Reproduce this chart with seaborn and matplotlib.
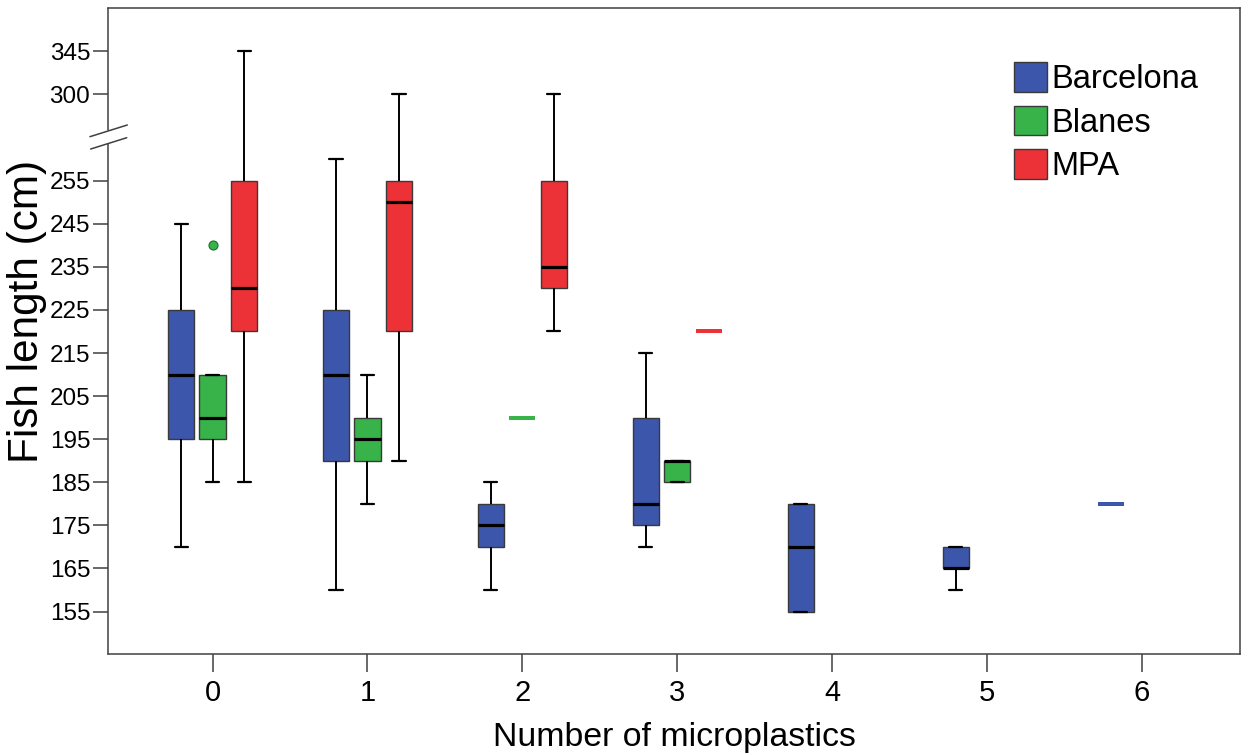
import numpy as np
import pandas as pd
import matplotlib
matplotlib.use("Agg")
import matplotlib.pyplot as plt
from matplotlib.lines import Line2D
import seaborn as sns

# ---------------- data ----------------
counts = ["0", "1", "2", "3", "4", "5", "6"]
sites = ["Barcelona", "Blanes", "MPA"]
site_colors = ["#3C56AB", "#37B34A", "#EC3237"]

# sample values per number of microplastics (min, Q1, median, Q3, max)
barcelona_lengths = [
    [170, 195, 210, 225, 245],
    [160, 190, 210, 225, 260],
    [160, 170, 175, 180, 185],
    [170, 175, 180, 200, 215],
    [155, 155, 170, 180, 180],
    [160, 165, 165, 170, 170],
    [180],
]
blanes_lengths = [
    [185, 195, 200, 210, 210],
    [180, 190, 195, 200, 210],
    [200],
    [185, 185, 190, 190, 190],
    [], [], [],
]
mpa_lengths = [
    [185, 220, 230, 255, 345],
    [190, 220, 250, 255, 300],
    [220, 230, 235, 255, 300],
    [220],
    [], [], [],
]
outlier_count = ["0"]
outlier_site = ["Blanes"]
outlier_length = [240]

y_ticks = [155, 165, 175, 185, 195, 205, 215, 225, 235, 245, 255, 300, 345]

# broken-axis mapping (data value -> axis position)
break_data = [100, 265, 300, 600]
break_axis = [100, 265, 275.06, 275.06 + 300 * 0.2233]

# ---------------- build tables ----------------
rows = []
for site, series in zip(sites, [barcelona_lengths, blanes_lengths, mpa_lengths]):
    for c, vals in zip(counts, series):
        for v in vals:
            rows.append({"count": c, "site": site, "length": v, "n": len(vals)})
df = pd.DataFrame(rows)
multi = df[df["n"] > 1]
single = df[df["n"] == 1]
out_df = pd.DataFrame({"count": outlier_count, "site": outlier_site, "length": outlier_length})
palette = dict(zip(sites, site_colors))

# ---------------- plot ----------------
sns.set_theme(style="ticks", rc={
    "text.color": "black", "axes.labelcolor": "black",
    "xtick.color": "black", "ytick.color": "black",
})
plt.rcParams["font.family"] = ["Liberation Sans", "DejaVu Sans"]

fig = plt.figure(figsize=(12.48, 7.55), dpi=100)
ax = fig.add_axes([108.3 / 1248, 1 - 654.3 / 755, (1240 - 108.3) / 1248, (654.3 - 8) / 755])

W, GAP = 0.61, 0.17
sns.boxplot(
    data=multi, x="count", y="length", hue="site", order=counts, hue_order=sites,
    palette=palette, saturation=1, width=W, gap=GAP, dodge=True, whis=(0, 100),
    showfliers=False, linecolor="#3a3a3a", linewidth=1.0,
    whiskerprops=dict(color="black", linewidth=1.4),
    capprops=dict(color="black", linewidth=1.6),
    medianprops=dict(color="black", linewidth=2.3),
    ax=ax,
)
for site, col in zip(sites, site_colors):
    sub = single[single["site"] == site]
    if len(sub):
        sns.boxplot(
            data=sub, x="count", y="length", hue="site", order=counts, hue_order=sites,
            palette=palette, saturation=1, width=W, gap=GAP, dodge=True, whis=(0, 100),
            showfliers=False, linecolor=col, linewidth=2.8, legend=False, ax=ax,
        )
sns.stripplot(
    data=out_df, x="count", y="length", hue="site", order=counts, hue_order=sites,
    palette=palette, dodge=True, jitter=False, size=6.5, linewidth=0.8,
    edgecolor="#1f6e2a", legend=False, ax=ax,
)

# broken y scale
ax.set_yscale("function", functions=(lambda v: np.interp(np.asarray(v, float), break_data, break_axis),
                                      lambda v: np.interp(np.asarray(v, float), break_axis, break_data)))
ax.set_ylim(145.07, 389.7)
ax.set_xlim(-0.673, 6.632)
ax.set_yticks(y_ticks)
ax.set_yticklabels([str(t) for t in y_ticks])
ax.minorticks_off()

spine_col = "#404040"
for s in ["top", "right", "bottom"]:
    ax.spines[s].set_color(spine_col)
    ax.spines[s].set_linewidth(1.1)
ax.spines["left"].set_visible(False)
# split left spine with break marks
for y0, y1 in [(0, 0.7895), (0.8112, 1.0)]:
    ax.add_line(Line2D([0, 0], [y0, y1], transform=ax.transAxes, color=spine_col,
                       lw=1.1, clip_on=False))
for (x0, y0, x1, y1) in [(-0.0162, 0.8009, 0.0168, 0.8190), (-0.0156, 0.7818, 0.0163, 0.7993)]:
    ax.add_line(Line2D([x0, x1], [y0, y1], transform=ax.transAxes, color=spine_col,
                       lw=1.1, clip_on=False))

ax.tick_params(axis="x", length=13, width=1.1, color=spine_col, pad=4.5, labelsize=21)
ax.tick_params(axis="y", length=11, width=1.1, color=spine_col, pad=2, labelsize=17.5)

ax.set_xlabel("Number of microplastics", fontsize=24.4, labelpad=11)
ax.set_ylabel("Fish length (cm)", fontsize=30.4)
ax.yaxis.set_label_coords(-0.054, 0.530)

sns.move_legend(
    ax, "upper left", bbox_to_anchor=(0.8003, 0.9160), frameon=False, title=None,
    fontsize=23.5, handlelength=1.0, handleheight=1.0, handletextpad=0.15,
    labelspacing=0.33, borderpad=0, borderaxespad=0,
)

fig.savefig("out.png", dpi=100)
